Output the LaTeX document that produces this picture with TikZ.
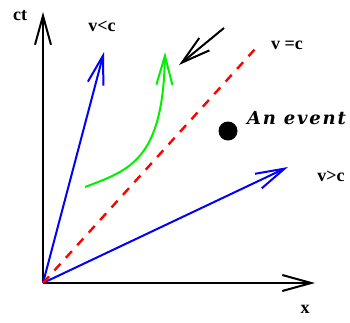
\documentclass[tikz,border=0pt]{standalone}
\usepackage{fontspec}
\setmainfont{Liberation Serif}
\newfontfamily\eventfont[LetterSpace=10]{DejaVu Serif}
\usetikzlibrary{arrows.meta,positioning}
\definecolor{lineblue}{HTML}{0000FF}
\definecolor{linegreen}{HTML}{00F000}
\definecolor{linered}{HTML}{FF0000}

\begin{document}
\begin{tikzpicture}[x=1pt, y=-1pt, line width=2pt,
    barb/.style={-{Straight Barb[length=29pt, width=16pt]}},
    lbl/.style={font=\fontsize{18}{20}\selectfont\bfseries, inner sep=0pt}]
  \useasboundingbox (0,0) rectangle (350,322);
  \coordinate (o) at (43,283);
  \coordinate (ctend) at (43,12);
  \coordinate (xend) at (315,283);
  \coordinate (slow) at (104,52);
  \coordinate (fast) at (288,167);
  \coordinate (lightend) at (256,48);
  \coordinate (gstart) at (85,187);
  \coordinate (gend) at (165,52);
  \coordinate (pfrom) at (224,28);
  \coordinate (pto) at (179,65);

  \node[lbl] (ct) at (20,16) {ct};
  \node[lbl] (x) at (305,309) {x};
  \node[lbl] (vlt) at (102,26) {v<c};
  \node[lbl] (veq) at (287,45) {v =c};
  \node[lbl] (vgt) at (331,176) {v>c};
  \node[circle, fill=black, inner sep=0pt, minimum size=19pt] (dot) at (228,131) {};
  \node[font=\eventfont\fontsize{18}{20}\selectfont\bfseries\itshape, anchor=west, inner sep=0pt] (ev) at (246,118) {An event};

  \draw[barb] (o) -- (ctend);
  \draw[barb] (o) -- (xend);
  \draw[barb, lineblue] (o) -- (slow);
  \draw[barb, lineblue] (o) -- (fast);
  \draw[linered, line width=2.4pt, dash pattern=on 9pt off 8pt] (o) -- (lightend);
  \draw[barb, linegreen] (gstart) .. controls (130,170) and (163,160) .. (gend);
  \draw[barb] (pfrom) -- (pto);
\end{tikzpicture}
\end{document}
